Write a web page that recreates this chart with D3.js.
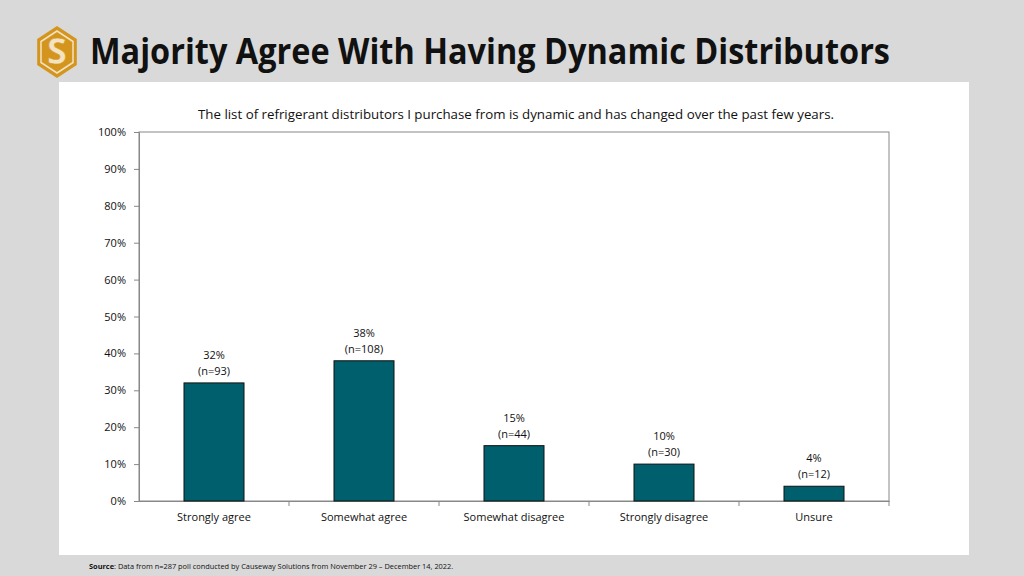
<!DOCTYPE html>
<html><head><meta charset="utf-8">
<script src="https://cdn.jsdelivr.net/npm/d3@7"></script>
<style>body{margin:0;background:#d9d9d9;}svg{display:block;font-family:"Open Sans",sans-serif;}</style>
</head><body>
<svg id="c" width="1024" height="576"></svg>
<script>
const categories = ["Strongly agree","Somewhat agree","Somewhat disagree","Strongly disagree","Unsure"];
const values = [32, 38, 15, 10, 4];
const counts = [93, 108, 44, 30, 12];
const yTicks = [0,10,20,30,40,50,60,70,80,90,100];
const titleText = "Majority Agree With Having Dynamic Distributors";
const subtitleText = "The list of refrigerant distributors I purchase from is dynamic and has changed over the past few years.";

const svg = d3.select("#c");
svg.append("rect").attr("width",1024).attr("height",576).attr("fill","#d9d9d9");
svg.append("rect").attr("x",59).attr("y",82).attr("width",910).attr("height",473).attr("fill","#fff");

// logo
const lg = svg.append("g").attr("transform","translate(57,52)");
const hex = (r)=>d3.range(6).map(i=>{const a=Math.PI/3*i+Math.PI/6;return [r*Math.cos(a)*0.88,r*Math.sin(a)];});
lg.append("polygon").attr("points",hex(26).join(" ")).attr("fill","#d4951f");
lg.append("polygon").attr("points",hex(21).join(" ")).attr("fill","none").attr("stroke","#f3e3c0").attr("stroke-width",1.5);
lg.append("text").attr("x",0).attr("y",12).attr("text-anchor","middle").attr("font-size",36).attr("font-weight","bold").attr("fill","#f3e3c0").attr("stroke","#d4951f").attr("stroke-width",0.5).text("S");

svg.append("text").attr("x",90).attr("y",64).attr("font-size",35).attr("font-weight","bold").attr("fill","#111")
  .attr("textLength",800).attr("lengthAdjust","spacingAndGlyphs").text(titleText);

svg.append("text").attr("x",516).attr("y",119).attr("text-anchor","middle").attr("font-size",13.2).attr("fill","#111")
  .attr("textLength",636).attr("lengthAdjust","spacingAndGlyphs").text(subtitleText);

const m = {l:139,r:889,t:132,b:501};
const x = d3.scaleBand().domain(categories).range([m.l,m.r]).paddingInner(0.6).paddingOuter(0.3);
const xb = d3.scaleBand().domain(categories).range([m.l,m.r]);
const y = d3.scaleLinear().domain([0,100]).range([m.b,m.t]);

// plot border
svg.append("rect").attr("x",m.l).attr("y",m.t).attr("width",m.r-m.l).attr("height",m.b-m.t).attr("fill","none").attr("stroke","#888").attr("stroke-width",1);

const ya = svg.append("g").attr("transform",`translate(${m.l},0)`)
  .call(d3.axisLeft(y).tickValues(yTicks).tickFormat(d=>d+"%").tickSize(5).tickPadding(8));
ya.select(".domain").attr("stroke","#888");
ya.selectAll(".tick line").attr("stroke","#888");
ya.selectAll("text").attr("font-size",11).attr("fill","#111").attr("font-family","Open Sans, sans-serif");

// x axis
const xa = svg.append("g").attr("transform",`translate(0,${m.b})`)
  .call(d3.axisBottom(xb).tickSize(0).tickPadding(12));
xa.select(".domain").attr("stroke","#888");
xa.selectAll("text").attr("font-size",11).attr("fill","#111").attr("font-family","Open Sans, sans-serif");
svg.append("g").selectAll("line").data(categories.slice(1)).join("line")
  .attr("x1",d=>xb(d)).attr("x2",d=>xb(d)).attr("y1",m.b).attr("y2",m.b+5).attr("stroke","#888");
svg.append("line").attr("x1",m.r).attr("x2",m.r).attr("y1",m.b).attr("y2",m.b+5).attr("stroke","#888");

svg.append("g").selectAll("rect").data(values).join("rect")
  .attr("x",(d,i)=>x(categories[i])).attr("width",x.bandwidth())
  .attr("y",d=>y(d)).attr("height",d=>y(0)-y(d))
  .attr("fill","#005f6d").attr("stroke","#111").attr("stroke-width",1);

const lab = svg.append("g").selectAll("g").data(values).join("g")
  .attr("transform",(d,i)=>`translate(${x(categories[i])+x.bandwidth()/2},${y(d)})`);
lab.append("text").attr("y",-24).attr("text-anchor","middle").attr("font-size",11).attr("fill","#111").text(d=>d+"%");
lab.append("text").attr("y",-8).attr("text-anchor","middle").attr("font-size",11).attr("fill","#111").text((d,i)=>"(n="+counts[i]+")");

const src = svg.append("text").attr("x",89).attr("y",569).attr("font-size",7.4).attr("fill","#111");
src.append("tspan").attr("font-weight","bold").text("Source");
src.append("tspan").text(": Data from n=287 poll conducted by Causeway Solutions from November 29 – December 14, 2022.");
</script>
</body></html>
